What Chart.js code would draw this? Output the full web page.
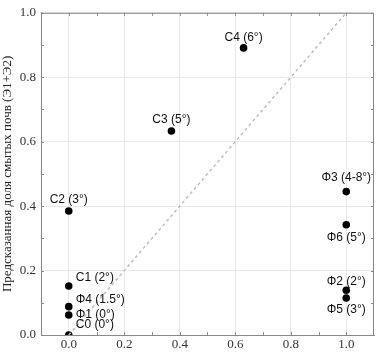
<!DOCTYPE html>
<html>
<head>
<meta charset="utf-8">
<script src="https://cdn.jsdelivr.net/npm/chart.js@4/dist/chart.umd.min.js"></script>
<style>
  html, body { margin: 0; padding: 0; background: #fff; }
  #wrap { width: 378px; height: 353px; }
</style>
</head>
<body>
<div id="wrap"><canvas id="myChart"></canvas></div>
<script>
// Sample names, observed (x) and predicted (y) shares
const names = ["C0 (0°)", "Φ1 (0°)", "Φ4 (1.5°)", "C1 (2°)", "C2 (3°)", "C3 (5°)", "C4 (6°)",
  "Φ3 (4-8°)", "Φ6 (5°)", "Φ2 (2°)", "Φ5 (3°)"];
const observed = [0, 0, 0, 0, 0, 0.37, 0.63, 1, 1, 1, 1];
const predicted = [0, 0.062, 0.088, 0.152, 0.385, 0.633, 0.891, 0.445, 0.342, 0.139, 0.115];
const tickValues = [0, 0.2, 0.4, 0.6, 0.8, 1.0];

// label offsets in px relative to the point (dx, dy), "c" = centered text
const labelPlace = [
  [7, -10, "l"], [7, 0, "l"], [7, -7, "l"], [7, -8, "l"], [0, -11, "c"], [0, -11, "c"],
  [0, -10, "c"], [0, -14, "c"], [0, 13, "c"], [0, -9, "c"], [0, 12, "c"]
];

const serif = "'Liberation Serif', 'Times New Roman', serif";
const ctx = document.getElementById("myChart");

const pointLabels = {
  id: "pointLabels",
  afterDatasetsDraw(chart) {
    const c = chart.ctx;
    const xs = chart.scales.x;
    const ys = chart.scales.y;
    c.save();
    c.font = "12px 'Liberation Sans', Arial, sans-serif";
    c.fillStyle = "#111";
    c.textBaseline = "middle";
    names.forEach((n, i) => {
      const p = labelPlace[i];
      c.textAlign = p[2] === "c" ? "center" : "left";
      c.fillText(n, xs.getPixelForValue(observed[i]) + p[0], ys.getPixelForValue(predicted[i]) + p[1]);
    });
    c.restore();
  },
};

// frame round the plot and small inward ticks every 0.1
const frame = {
  id: "frame",
  beforeDatasetsDraw(chart) {
    const c = chart.ctx;
    const a = chart.chartArea;
    const xs = chart.scales.x;
    const ys = chart.scales.y;
    c.save();
    c.strokeStyle = "#888";
    c.lineWidth = 1;
    c.beginPath();
    for (let v = 0; v <= 10; v++) {
      const px = Math.round(xs.getPixelForValue(v / 10)) + 0.5;
      const py = Math.round(ys.getPixelForValue(v / 10)) + 0.5;
      c.moveTo(px, a.bottom); c.lineTo(px, a.bottom - 3);
      c.moveTo(px, a.top); c.lineTo(px, a.top + 3);
      c.moveTo(a.left, py); c.lineTo(a.left + 3, py);
      c.moveTo(a.right, py); c.lineTo(a.right - 3, py);
    }
    c.stroke();
    c.strokeRect(a.left + 0.5, a.top + 0.5, a.right - a.left - 1, a.bottom - a.top);
    c.restore();
  },
};

new Chart(ctx, {
  type: "scatter",
  data: {
    datasets: [
      {
        type: "line",
        data: [{ x: 0, y: 0 }, { x: 1, y: 1 }],
        borderColor: "#bdbdbd",
        borderWidth: 1.5,
        borderDash: [3, 3],
        pointRadius: 0,
        fill: false,
      },
      {
        data: observed.map((x, i) => ({ x: x, y: predicted[i] })),
        backgroundColor: "#000",
        borderWidth: 0,
        pointRadius: 3.8,
      },
    ],
  },
  options: {
    responsive: true,
    maintainAspectRatio: false,
    animation: false,
    layout: { padding: { top: 5, right: 2, left: 0, bottom: 0 } },
    plugins: {
      legend: { display: false },
      tooltip: { enabled: false },
    },
    scales: {
      x: {
        type: "linear",
        min: -0.1,
        max: 1.1,
        afterBuildTicks: (s) => { s.ticks = tickValues.map((v) => ({ value: v })); },
        afterFit: (s) => { s.height = 18; },
        ticks: {
          callback: (v) => v.toFixed(1),
          font: { family: serif, size: 13 },
          color: "#333",
          padding: 2,
        },
        grid: { color: "#e8e8e8", drawTicks: false },
        border: { color: "#888" },
      },
      y: {
        min: 0,
        max: 1,
        afterBuildTicks: (s) => { s.ticks = tickValues.map((v) => ({ value: v })); },
        afterFit: (s) => { s.width = 41; },
        ticks: {
          callback: (v) => v.toFixed(1),
          font: { family: serif, size: 13 },
          color: "#333",
          padding: 5,
        },
        grid: { color: "#e8e8e8", drawTicks: false },
        border: { color: "#888" },
        title: {
          display: true,
          text: "Предсказанная доля смытых почв (Э1+Э2)",
          font: { family: serif, size: 13 },
          color: "#222",
          padding: 0,
        },
      },
    },
  },
  plugins: [frame, pointLabels],
});
</script>
</body>
</html>
